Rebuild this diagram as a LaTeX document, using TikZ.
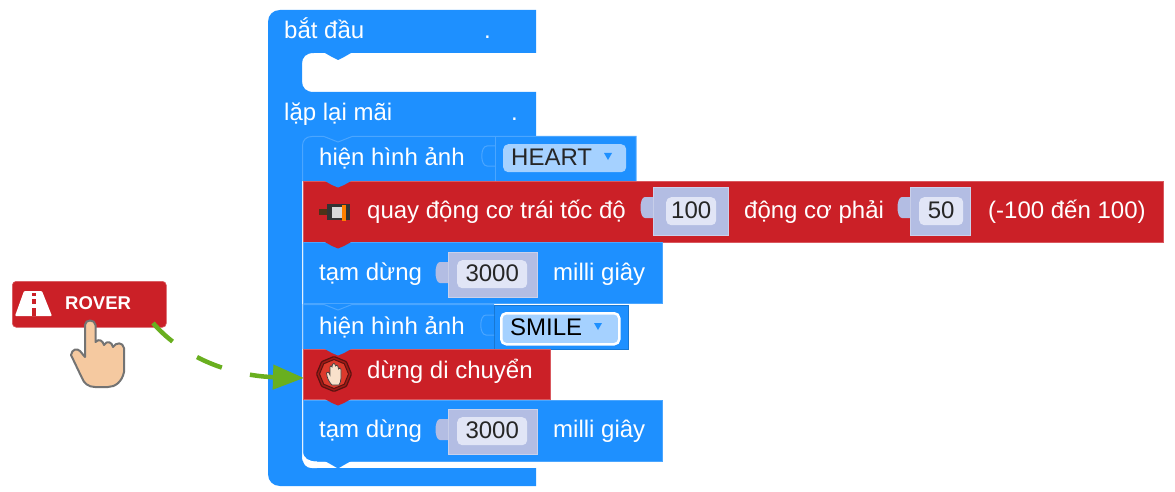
\documentclass[tikz,border=0pt]{standalone}
\usepackage{fontspec}
\setmainfont{Liberation Sans}
\usetikzlibrary{shapes.geometric}
\usetikzlibrary{arrows.meta}
\definecolor{blockblue}{HTML}{1E90FF}
\definecolor{edgeblue}{HTML}{4BA6FF}
\definecolor{darkblue}{HTML}{1877D2}
\definecolor{blockred}{HTML}{CB2027}
\definecolor{edgered}{HTML}{D9585E}
\definecolor{valpurple}{HTML}{B3BDE3}
\definecolor{valpill}{HTML}{E1E5F6}
\definecolor{menupill}{HTML}{A5D1FF}
\definecolor{dragGreen}{HTML}{69AF1F}
\definecolor{skin}{HTML}{F5C9A0}
\definecolor{signred}{HTML}{DC3A2C}
\definecolor{signdark}{HTML}{5A1210}
\definecolor{signrim}{HTML}{A01A16}
\tikzset{
  blueblock/.style={draw=edgeblue, line width=0.8pt, fill=blockblue, anchor=north west, inner sep=0pt, outer sep=0pt},
  redblock/.style={draw=edgered, line width=0.8pt, fill=blockred, anchor=north west, inner sep=0pt, outer sep=0pt},
  label/.style={text=white, anchor=base west, inner sep=0pt, font=\fontsize{24}{28}\selectfont},
  valtext/.style={text=black!85, inner sep=0pt, font=\fontsize{24}{28}\selectfont},
  valblock/.style={fill=valpurple, draw=valpurple!70!white, line width=0.8pt, anchor=north west, inner sep=0pt, outer sep=0pt},
  valbox/.style={fill=valpill, rounded corners=5pt, anchor=north west, inner sep=0pt},
  menubox/.style={fill=menupill, rounded corners=5pt, anchor=north west, inner sep=0pt}
}
\begin{document}
\begin{tikzpicture}[x=1pt, y=-1pt]
    \useasboundingbox (0,0) rectangle (1175,492);

    \fill[blockblue] (280,10) -- (536,10) -- (536,53) -- (351,53) -- (344,57) -- (338,60) -- (332,57) -- (325,53)
        -- (314,53) .. controls (306,53) and (302,57) .. (302,64) -- (302,81) .. controls (302,88) and (306,92) .. (314,92)
        -- (536,92) -- (536,136) -- (302,136) -- (302,456) .. controls (302,464) and (306,468) .. (314,468)
        -- (536,468) -- (536,486) -- (280,486) .. controls (273,486) and (268,481) .. (268,474)
        -- (268,22) .. controls (268,15) and (273,10) .. (280,10) -- cycle;

    \node(hearta)[blueblock, draw=none, minimum width=334pt, minimum height=45pt] at (302,136){};
    \node(motor)[redblock, minimum width=860pt, minimum height=61pt] at (303,181){};
    \node(pausea)[blueblock, minimum width=359pt, minimum height=61pt] at (303,242){};
    \node(smile)[blueblock, draw=none, minimum width=191pt, minimum height=45pt] at (303,304){};
    \node(smilefield)[blueblock, draw=darkblue, minimum width=134pt, minimum height=44pt] at (494,305){};
    \node(stop)[redblock, minimum width=247pt, minimum height=50pt] at (303,349){};
    \node(pauseb)[blueblock, minimum width=359pt, minimum height=61pt] at (303,400){};

    \fill[blockblue] (302,136) rectangle (312,146);
    \draw[edgeblue, line width=1pt] (302.5,181) -- (302.5,146) .. controls (302.5,140) and (306,136.5) .. (312,136.5)
        -- (324,136.5) -- (338,142) -- (352,136.5) -- (636,136.5) -- (636,181);
    \draw[edgeblue, line width=1pt] (303,349) -- (303,304.5) -- (324,304.5) -- (338,310) -- (352,304.5) -- (494,304.5);

    \fill[white] (302.5,452) .. controls (304,458) and (308,461.5) .. (317,461.5) -- (317,468) -- (312,468) .. controls (306,468) and (302.5,464) .. (302.5,456) -- cycle;

    \foreach \y/\c/\d in {181/blockblue/6.5, 242/blockred/6.5, 349/blockblue/6.5, 399/blockred/6.5, 461/blockblue/7.5}
        \fill[\c] (324,\y-0.5) -- (332,\y+4) -- (338,\y+\d) -- (344,\y+4) -- (352,\y-0.5) -- cycle;

    \foreach \n/\x/\y/\w/\h in {a/653/187/75/48, b/910/187/60/48, c/448/252/89/45, d/448/409/89/45}{
        \node(val\n)[valblock, minimum width=\w pt, minimum height=\h pt] at (\x,\y){};
        \fill[valpurple] (\x,\y+10) -- (\x-8,\y+10) .. controls (\x-14,\y+10) and (\x-14,\y+31) .. (\x-8,\y+31) -- (\x,\y+31) -- cycle;
    }
    \foreach \x/\y in {495/136, 494/305}
        \draw[edgeblue, line width=1pt] (\x,\y+10) -- (\x-8,\y+10) .. controls (\x-15,\y+10) and (\x-15,\y+30) .. (\x-8,\y+30) -- (\x,\y+30);
    \draw[edgeblue, line width=1pt] (495,136) -- (495,181);

    \node(boxa)[valbox, minimum width=50pt, minimum height=28pt] at (666,197){};
    \node(boxb)[valbox, minimum width=44pt, minimum height=28pt] at (919,197){};
    \node(boxc)[valbox, minimum width=70pt, minimum height=28pt] at (457,260){};
    \node(boxd)[valbox, minimum width=70pt, minimum height=28pt] at (457,417){};
    \node(boxheart)[menubox, minimum width=123pt, minimum height=28pt] at (503,144){};
    \node(boxsmile)[menubox, draw=white, line width=2.5pt, minimum width=118pt, minimum height=31pt] at (500,312){};

    \node(starttext)[label] at (284,39){bắt đầu};
    \node(startdot)[label] at (484,39){.};
    \node(looptext)[label] at (284,121){lặp lại mãi};
    \node(loopdot)[label] at (511,121){.};
    \node(hearttext)[label] at (319,165){hiện hình ảnh};
    \node(heartval)[valtext, anchor=base west] at (511,165){HEART};
    \node(motortext)[label] at (367,218){quay động cơ trái tốc độ};
    \node(righttext)[label] at (744,218){động cơ phải};
    \node(rangetext)[label] at (988,218){(-100 đến 100)};
    \node(pausetexta)[label] at (319,280){tạm dừng};
    \node(millia)[label] at (553,280){milli giây};
    \node(smiletext)[label] at (319,334){hiện hình ảnh};
    \node(smileval)[valtext, text=black, anchor=base west] at (510,335){SMILE};
    \node(stoptext)[label] at (367,378){dừng di chuyển};
    \node(pausetextb)[label] at (319,437){tạm dừng};
    \node(millib)[label] at (553,437){milli giây};
    \node(vala)[valtext, yshift=1pt] at (boxa.center){100};
    \node(valb)[valtext, yshift=1pt] at (boxb.center){50};
    \node(valc)[valtext, yshift=1pt] at (boxc.center){3000};
    \node(vald)[valtext, yshift=1pt] at (boxd.center){3000};

    \fill[blockblue] (604,153) -- (612,153) -- (608,160) -- cycle;
    \fill[blockblue] (594,323) -- (602,323) -- (598,330) -- cycle;

    % motor icon
    \fill[black!60!brown] (319,209) rectangle (327,215);
    \fill[black!80] (327,204) rectangle (350,220);
    \fill[black!15] (332,207) rectangle (342,218);
    \fill[orange] (342,205) rectangle (346,221);

    % stop icon
    \node(stopsign)[regular polygon, regular polygon sides=8, shape border rotate=22.5, minimum size=35pt, inner sep=0pt, fill=signrim, draw=signdark, line width=1.2pt, rounded corners=1pt] at (334,374){};
    \node(stopring)[regular polygon, regular polygon sides=8, shape border rotate=22.5, minimum size=29pt, inner sep=0pt, fill=signred, draw=signdark, line width=1pt] at (334,374){};
    \fill[skin!55!white, draw=black!75, line width=0.7pt] (332,385) .. controls (329,382) and (327,378) .. (326.5,373) .. controls (327,371) and (329,372) .. (330,375)
        -- (330,367) .. controls (330,365.5) and (332,365.5) .. (332,367) -- (332.5,364.5) .. controls (333,363) and (335,363) .. (335,364.5)
        -- (335.5,366) .. controls (336,364.5) and (338,365) .. (338,366.5) -- (338.5,369) .. controls (339,367.5) and (341,368) .. (341,369.5)
        -- (341,378) .. controls (341,381) and (340,383) .. (339,385) -- cycle;

    \node(rover)[fill=blockred, draw=edgered, line width=0.6pt, rounded corners=4pt, anchor=north west, minimum width=154pt, minimum height=46pt, inner sep=0pt] at (12,281){};
    \node(rovertext)[text=white, inner sep=0pt, font=\fontsize{18.5}{22}\bfseries\selectfont, anchor=base west] at (65,309){ROVER};
    \fill[white, rounded corners=1pt] (24,291) -- (42,291) -- (52,316) -- (15,316) -- cycle;
    \foreach \a/\b in {293/296, 299/304, 308/316}
        \fill[blockred] (32,\a) rectangle (35.5,\b);

    \filldraw[fill=skin, draw=black!55, line width=2pt, line join=round] (85,325) .. controls (85,319) and (95,319) .. (95.5,325) -- (95.5,342)
        .. controls (99,338) and (103,341) .. (104,345) .. controls (107,340) and (112,342) .. (113,347)
        .. controls (116,342) and (123,342) .. (124,348) -- (124,372) .. controls (122,382) and (115,387) .. (108,387)
        -- (95,387) .. controls (88,387) and (84,383) .. (82,378) -- (71,355)
        .. controls (72,349) and (77,348) .. (80,351) -- (85,357) -- cycle;

    \coordinate(dragstart) at (153,323);
    \coordinate(droptip) at (304,378);
    \draw[dragGreen, line width=4.5pt, dash pattern=on 27pt off 29pt, -{Triangle[length=31pt, width=24pt]}] (dragstart) .. controls (185,360) and (235,376) .. (droptip);
\end{tikzpicture}
\end{document}
